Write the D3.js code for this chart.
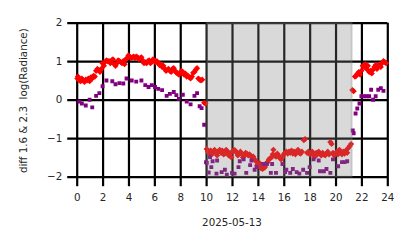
<!DOCTYPE html>
<html>
<head>
<meta charset="utf-8">
<script src="https://cdn.jsdelivr.net/npm/d3@7"></script>
<style>
  html, body { margin: 0; padding: 0; background: #fff; }
  svg { display: block; font-family: "DejaVu Sans", sans-serif; }
</style>
</head>
<body>
<svg id="chart" width="414" height="248"></svg>
<script>
// --- data (hour of day, value) ---
const xTicks = [0, 2, 4, 6, 8, 10, 12, 14, 16, 18, 20, 22, 24];
const yTicks = [-2, -1, 0, 1, 2];
const dateLabel = "2025-05-13";
const yLabel = "diff 1.6 & 2.3  log(Radiance)";
const nightSpan = [10.05, 21.25];

// red diamonds: 1.6 band
const redHours = [
  0.05, 0.1, 0.2, 0.3, 0.4, 0.5, 0.6, 0.7, 0.8, 0.9, 1.0, 1.1, 1.2, 1.3, 1.4, 1.5, 1.6, 1.7, 1.8, 1.9,
  2.0, 2.1, 2.2, 2.3, 2.4, 2.5, 2.6, 2.7, 2.8, 2.9, 3.0, 3.1, 3.2, 3.3, 3.4, 3.5, 3.6, 3.7, 3.8, 3.9,
  4.0, 4.1, 4.2, 4.3, 4.4, 4.5, 4.6, 4.7, 4.8, 4.9, 5.0, 5.1, 5.2, 5.3, 5.4, 5.5, 5.6, 5.7, 5.8, 5.9,
  6.0, 6.1, 6.2, 6.3, 6.4, 6.5, 6.6, 6.7, 6.8, 6.9, 7.0, 7.1, 7.2, 7.3, 7.4, 7.5, 7.6, 7.7, 7.8, 7.9,
  8.0, 8.1, 8.2, 8.3, 8.4, 8.5, 8.6, 8.7, 8.8, 8.9, 9.0, 9.1, 9.2, 9.3, 9.4, 9.5, 9.6, 9.7, 9.85, 9.95,
  10.05, 10.15, 10.25, 10.35, 10.45, 10.55, 10.65, 10.75, 10.85, 10.95, 11.05, 11.15, 11.25, 11.35, 11.45,
  11.55, 11.65, 11.75, 11.85, 11.95, 12.05, 12.15, 12.25, 12.35, 12.45, 12.55, 12.65, 12.75, 12.85, 12.95,
  13.05, 13.15, 13.25, 13.35, 13.45, 13.55, 13.65, 13.75, 13.85, 13.95, 14.05, 14.15, 14.25, 14.35, 14.45,
  14.55, 14.65, 14.75, 14.85, 14.95, 15.05, 15.15, 15.2, 15.3, 15.4, 15.5, 15.6, 15.7, 15.8, 15.9,
  16.0, 16.1, 16.2, 16.3, 16.4, 16.5, 16.6, 16.7, 16.8, 16.9, 17.0, 17.1, 17.2, 17.3, 17.4, 17.55, 17.65,
  17.8, 17.9, 18.0, 18.1, 18.2, 18.3, 18.4, 18.5, 18.6, 18.7, 18.8, 18.9, 19.0, 19.1, 19.2, 19.3, 19.4,
  19.5, 19.6, 19.7, 19.8, 19.9, 20.0, 20.1, 20.2, 20.3, 20.4, 20.5, 20.6, 20.7, 20.8, 20.9, 21.0, 21.1, 21.2,
  21.3, 21.4, 21.5, 21.6, 21.7, 21.8, 21.9, 22.0, 22.1, 22.2, 22.3, 22.4, 22.5, 22.6, 22.7, 22.8, 22.9,
  23.0, 23.1, 23.2, 23.3, 23.4, 23.5, 23.6, 23.7, 23.8, 23.9
];
const redValues = [
  0.55, 0.6, 0.5, 0.48, 0.55, 0.5, 0.46, 0.52, 0.5, 0.55, 0.48, 0.58, 0.55, 0.62, 0.6, 0.75, 0.8, 0.77, 0.72, 0.8,
  0.95, 0.88, 0.98, 1.02, 1.0, 1.0, 0.95, 1.02, 1.05, 0.92, 0.88, 0.95, 1.02, 1.0, 0.98, 0.95, 1.0, 0.92, 1.05, 1.08,
  1.15, 1.12, 1.08, 1.1, 1.12, 1.08, 1.12, 1.1, 1.05, 1.08, 1.1, 1.02, 0.95, 0.97, 0.95, 1.0, 1.02, 0.95, 0.98, 1.05,
  1.02, 0.97, 1.0, 0.95, 0.9, 0.92, 0.85, 0.88, 0.8, 0.75, 0.78, 0.8, 0.75, 0.72, 0.8, 0.82, 0.75, 0.7, 0.68, 0.65,
  0.7, 0.75, 0.72, 0.65, 0.68, 0.6, 0.62, 0.58, 0.55, 0.6, 0.7, 0.72, 0.78, 0.82, 0.55, 0.52, 0.5, 0.52, -0.08, -0.1,
  -1.28, -1.35, -1.4, -1.32, -1.42, -1.35, -1.3, -1.38, -1.45, -1.35, -1.3, -1.38, -1.32, -1.42, -1.4,
  -1.3, -1.35, -1.45, -1.38, -1.5, -1.35, -1.3, -1.32, -1.38, -1.45, -1.4, -1.35, -1.42, -1.5, -1.45,
  -1.38, -1.4, -1.45, -1.42, -1.45, -1.5, -1.48, -1.55, -1.6, -1.7, -1.72, -1.65, -1.78, -1.8, -1.78,
  -1.75, -1.65, -1.62, -1.55, -1.52, -1.5, -1.42, -1.3, -1.45, -1.48, -1.4, -1.45, -1.52, -1.55, -1.5,
  -1.42, -1.38, -1.35, -1.4, -1.35, -1.38, -1.32, -1.4, -1.35, -1.42, -1.35, -1.3, -1.38, -1.4, -1.35, -1.05, -1.02,
  -1.38, -1.35, -1.42, -1.4, -1.35, -1.45, -1.48, -1.38, -1.42, -1.35, -1.4, -1.45, -1.38, -1.42, -1.45, -1.4, -1.35,
  -1.42, -1.1, -1.15, -1.38, -1.45, -1.4, -1.35, -1.42, -1.3, -1.38, -1.42, -1.35, -1.4, -1.32, -1.38, -1.25, -1.2, -1.15,
  0.25, 0.22, 0.6, 0.62, 0.68, 0.72, 0.65, 0.75, 0.88, 0.85, 0.92, 0.8, 0.88, 0.72, 0.75, 0.68, 0.78,
  0.85, 0.9, 0.8, 0.88, 0.92, 0.85, 0.95, 1.0, 0.98, 0.95
];

// purple squares: 2.3 band
const purpleHours = [
  0.2, 0.4, 0.7, 1.0, 1.2, 1.5, 1.75, 2.0, 2.3, 2.75, 3.0, 3.3, 3.6, 3.85, 4.25, 4.6, 5.0, 5.3, 5.55, 5.8,
  6.05, 6.3, 6.6, 6.95, 7.2, 7.5, 7.7, 7.9, 8.2, 8.5, 8.8, 9.1, 9.3, 9.5, 9.65, 9.85,
  10.0, 10.05, 10.2, 10.3, 10.4, 10.5, 10.8, 10.85, 11.2, 11.45, 11.6, 12.0, 12.2, 12.5, 12.6, 12.9, 13.1,
  13.4, 13.5, 13.75, 13.9, 14.4, 14.7, 15.0, 15.1, 15.4, 15.9, 16.1, 16.2, 16.5, 16.7, 17.0, 17.2, 17.5,
  17.8, 18.0, 18.3, 18.7, 18.8, 19.1, 19.3, 19.6, 19.8, 20.2, 20.5, 20.7, 20.9,
  21.33, 21.4, 21.55, 21.68, 21.85, 22.0, 22.2, 22.4, 22.6, 22.75, 22.9, 23.1, 23.3, 23.5, 23.7
];
const purpleValues = [
  -0.05, -0.1, -0.15, 0.0, -0.2, 0.1, 0.17, 0.35, 0.5, 0.48, 0.4, 0.43, 0.42, 0.55, 0.5, 0.47, 0.5, 0.38, 0.33, 0.38,
  0.33, 0.28, 0.25, 0.1, 0.15, 0.2, 0.12, 0.02, 0.13, -0.05, -0.12, 0.1, 0.17, -0.17, -0.22, -0.65,
  -1.62, -1.64, -1.89, -1.49, -1.75, -1.6, -1.92, -1.58, -1.88, -1.82, -1.95, -1.9, -1.92, -1.75, -1.6, -1.55, -1.9,
  -1.7, -1.58, -1.82, -1.75, -1.67, -1.67, -1.9, -1.67, -1.9, -1.67, -1.88, -1.82, -1.9, -1.8, -1.88, -1.92, -1.82,
  -1.9, -1.75, -1.55, -1.58, -1.86, -1.86, -1.8, -1.9, -1.55, -1.73, -1.62, -1.62, -1.6,
  -0.8, -0.87, -0.36, -0.23, -0.1, 0.09, 0.09, 0.09, 0.09, 0.26, 0.0, 0.09, 0.26, 0.3, 0.23
];

// --- layout ---
const svg = d3.select("#chart");
const margin = { top: 22.7, left: 76.7 };
const width = 310.6, height = 154;
const tickLen = 9.5;

const x = d3.scaleLinear().domain([0, 24]).range([0, width]);
const y = d3.scaleLinear().domain([-2, 2]).range([height, 0]);

const g = svg.append("g").attr("transform", `translate(${margin.left},${margin.top})`);

// grid + ticks (black, thick), ticks poke out past the plot edge
const xAxis = g.append("g")
  .attr("transform", `translate(0,${height + tickLen})`)
  .call(d3.axisBottom(x).tickValues(xTicks).tickSize(-(height + tickLen)).tickPadding(7).tickFormat(d3.format("d")));
const yAxis = g.append("g")
  .attr("transform", `translate(${-tickLen},0)`)
  .call(d3.axisLeft(y).tickValues(yTicks).tickSize(-(width + tickLen)).tickPadding(5)
    .tickFormat(d => d < 0 ? "\u2212" + Math.abs(d) : String(d)));

[xAxis, yAxis].forEach(ax => {
  ax.select(".domain").remove();
  ax.selectAll(".tick line").attr("stroke", "#000").attr("stroke-width", 2.2);
  ax.selectAll(".tick text").attr("fill", "#262626").style("font-size", "10.3px")
    .style("font-family", "DejaVu Sans, sans-serif");
});
xAxis.selectAll(".tick text").attr("dy", "0.71em");

// markers
const diamond = d3.symbol().type(d3.symbolSquare).size(19);
const square = d3.symbol().type(d3.symbolSquare).size(15);

const redData = redHours.map((h, i) => ({ h, v: redValues[i] }));
const purpleData = purpleHours.map((h, i) => ({ h, v: purpleValues[i] }));

svg.append("clipPath").attr("id", "plot-clip")
  .append("rect").attr("x", -3).attr("y", -3).attr("width", width + 6).attr("height", height + 3);

const marks = g.append("g").attr("clip-path", "url(#plot-clip)");

marks.selectAll(".red").data(redData).enter().append("path")
  .attr("class", "red")
  .attr("d", diamond)
  .attr("fill", "#ff0000")
  .attr("transform", d => `translate(${x(d.h)},${y(d.v)}) rotate(45)`);

marks.selectAll(".purple").data(purpleData).enter().append("path")
  .attr("class", "purple")
  .attr("d", square)
  .attr("fill", "#800080")
  .attr("transform", d => `translate(${x(d.h)},${y(d.v)})`);

// shaded night span drawn over everything
g.append("rect")
  .attr("x", x(nightSpan[0]))
  .attr("y", 0)
  .attr("width", x(nightSpan[1]) - x(nightSpan[0]))
  .attr("height", height)
  .attr("fill", "#808080")
  .attr("fill-opacity", 0.3)
  .attr("stroke", "#808080")
  .attr("stroke-opacity", 0.3)
  .attr("stroke-width", 2);

// labels
svg.append("text")
  .attr("x", margin.left + width / 2)
  .attr("y", 226)
  .attr("text-anchor", "middle")
  .attr("fill", "#262626")
  .style("font-size", "10.3px")
  .text(dateLabel);

svg.append("text")
  .attr("transform", `translate(27,${margin.top + height / 2 + 1}) rotate(-90)`)
  .attr("text-anchor", "middle")
  .attr("fill", "#262626")
  .style("font-size", "10.3px")
  .style("white-space", "pre")
  .text(yLabel);
</script>
</body>
</html>
